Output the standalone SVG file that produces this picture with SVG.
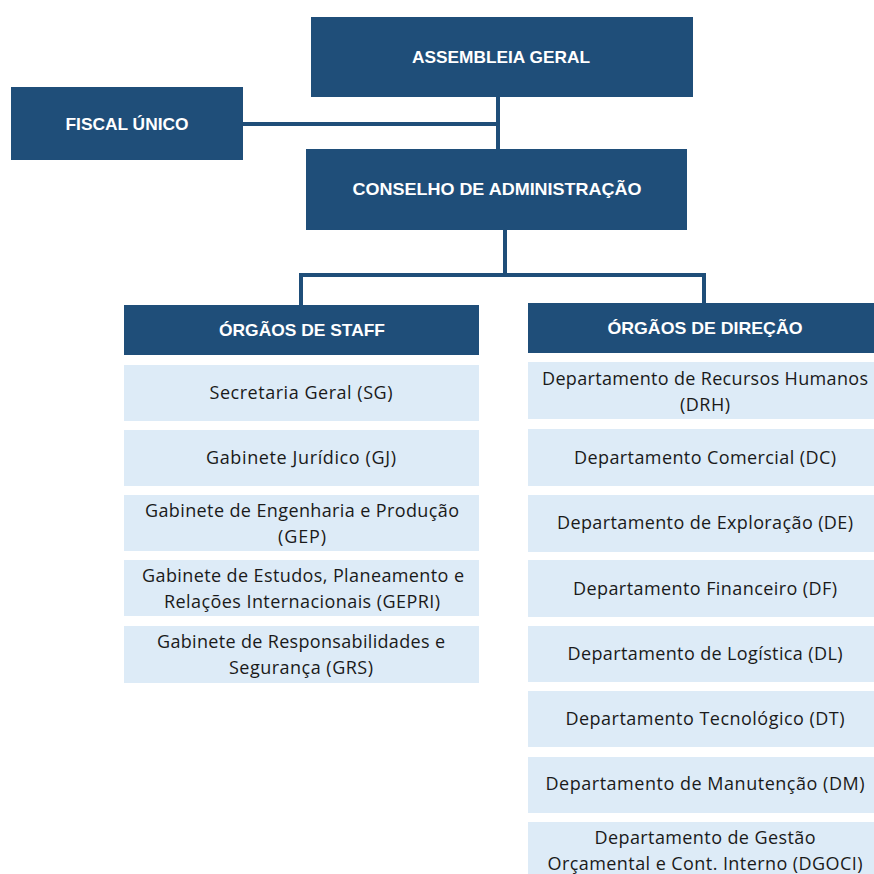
<svg xmlns="http://www.w3.org/2000/svg" width="874" height="874" viewBox="0 0 874 874">
<style>
.dark{fill:#1F4E79}
.light{fill:#DDEBF7}
.ht{font-family:"Liberation Sans",Arial,sans-serif;font-weight:bold;font-size:17px;fill:#FFFFFF;text-anchor:middle;dominant-baseline:central}
.it{font-family:"Open Sans","Liberation Sans",Arial,sans-serif;font-size:18px;fill:#1a1a1a;text-anchor:middle;dominant-baseline:central}
.con{stroke:#1F4E79;stroke-width:4;fill:none}
</style>
<rect width="874" height="874" fill="#FFFFFF"/>
<g id="connectors">
<path class="con" d="M498 97 V149 M243 124 H498"/>
<path class="con" d="M505 230 V275 M301 275 H704 M301 273 V305 M704 273 V303"/>
</g>
<g id="assembleia"><rect class="dark" x="311" y="17" width="382" height="80"/><text class="ht" x="501" y="57" textLength="178" lengthAdjust="spacingAndGlyphs">ASSEMBLEIA GERAL</text></g>
<g id="fiscal"><rect class="dark" x="11" y="87" width="232" height="73"/><text class="ht" x="127" y="124" textLength="123" lengthAdjust="spacingAndGlyphs">FISCAL ÚNICO</text></g>
<g id="conselho"><rect class="dark" x="306" y="149" width="381" height="81"/><text class="ht" x="497" y="189" textLength="289" lengthAdjust="spacingAndGlyphs">CONSELHO DE ADMINISTRAÇÃO</text></g>
<g id="staff"><rect class="dark" x="124" y="305" width="355" height="50"/><text class="ht" x="302" y="330" textLength="166" lengthAdjust="spacingAndGlyphs">ÓRGÃOS DE STAFF</text></g>
<g id="sg"><rect class="light" x="124" y="365" width="355" height="56"/><text class="it" x="301" y="392" textLength="183">Secretaria Geral (SG)</text></g>
<g id="gj"><rect class="light" x="124" y="430" width="355" height="56"/><text class="it" x="301" y="457" textLength="190">Gabinete Jurídico (GJ)</text></g>
<g id="gep"><rect class="light" x="124" y="495" width="355" height="56"/><text class="it" x="302" y="510" textLength="314">Gabinete de Engenharia e Produção</text><text class="it" x="302" y="536" textLength="48">(GEP)</text></g>
<g id="gepri"><rect class="light" x="124" y="560" width="355" height="56"/><text class="it" x="303" y="575" textLength="322">Gabinete de Estudos, Planeamento e</text><text class="it" x="302" y="601" textLength="276">Relações Internacionais (GEPRI)</text></g>
<g id="grs"><rect class="light" x="124" y="626" width="355" height="57"/><text class="it" x="301" y="641" textLength="288">Gabinete de Responsabilidades e</text><text class="it" x="301" y="667" textLength="144">Segurança (GRS)</text></g>
<g id="direcao"><rect class="dark" x="528" y="303" width="346" height="50"/><text class="ht" x="705" y="328" textLength="195" lengthAdjust="spacingAndGlyphs">ÓRGÃOS DE DIREÇÃO</text></g>
<g id="drh"><rect class="light" x="528" y="362" width="346" height="57"/><text class="it" x="705" y="378" textLength="326">Departamento de Recursos Humanos</text><text class="it" x="705" y="404" textLength="50">(DRH)</text></g>
<g id="dc"><rect class="light" x="528" y="429" width="346" height="57"/><text class="it" x="705" y="457" textLength="262">Departamento Comercial (DC)</text></g>
<g id="de"><rect class="light" x="528" y="495" width="346" height="57"/><text class="it" x="705" y="522" textLength="296">Departamento de Exploração (DE)</text></g>
<g id="df"><rect class="light" x="528" y="560" width="346" height="57"/><text class="it" x="705" y="588" textLength="264">Departamento Financeiro (DF)</text></g>
<g id="dl"><rect class="light" x="528" y="626" width="346" height="56"/><text class="it" x="705" y="653" textLength="275">Departamento de Logística (DL)</text></g>
<g id="dt"><rect class="light" x="528" y="691" width="346" height="56"/><text class="it" x="705" y="718" textLength="279">Departamento Tecnológico (DT)</text></g>
<g id="dm"><rect class="light" x="528" y="757" width="346" height="56"/><text class="it" x="705" y="783" textLength="319">Departamento de Manutenção (DM)</text></g>
<g id="dgoci"><rect class="light" x="528" y="822" width="346" height="52"/><text class="it" x="705" y="837" textLength="221">Departamento de Gestão</text><text class="it" x="705" y="863" textLength="315">Orçamental e Cont. Interno (DGOCI)</text></g>
</svg>
